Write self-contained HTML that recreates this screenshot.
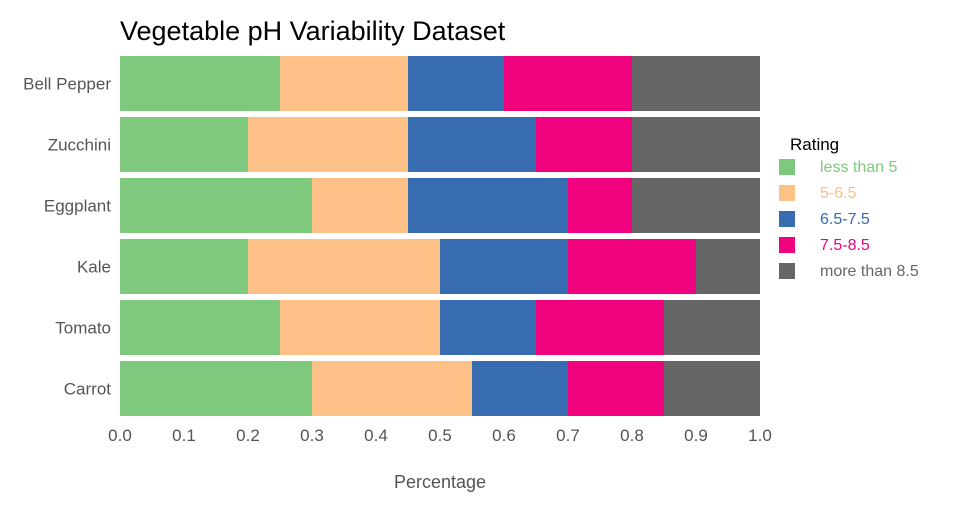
<!DOCTYPE html>
<html><head><meta charset="utf-8"><style>
body{margin:0;background:#fff;}
svg{font-family:"Liberation Sans Narrow","Liberation Sans",sans-serif;}
</style></head><body>
<svg width="960" height="500" id="c">
<text x="120" y="40" font-size="27" fill="#000">Vegetable pH Variability Dataset</text>
<text x="440" y="488" font-size="18" fill="#555" text-anchor="middle">Percentage</text>
<g id="bars"></g>
<g id="yax"></g>
<g id="xax"></g>
<g id="leg"></g>
</svg>
<script>
const categories=["Bell Pepper","Zucchini","Eggplant","Kale","Tomato","Carrot"];
const seriesNames=["less than 5","5-6.5","6.5-7.5","7.5-8.5","more than 8.5"];
const lt5=[0.25,0.2,0.3,0.2,0.25,0.3];
const s565=[0.2,0.25,0.15,0.3,0.25,0.25];
const s6575=[0.15,0.2,0.25,0.2,0.15,0.15];
const s7585=[0.2,0.15,0.1,0.2,0.2,0.15];
const gt85=[0.2,0.2,0.2,0.1,0.15,0.15];
const xTicks=["0.0","0.1","0.2","0.3","0.4","0.5","0.6","0.7","0.8","0.9","1.0"];
const colors=["#7fc97f","#fdc086","#386cb0","#f0027f","#666666"];
const series=[lt5,s565,s6575,s7585,gt85];
const NS="http://www.w3.org/2000/svg";
const x=v=>120+v*640;
const step=61,top0=56,bh=55;
const y=i=>top0+i*step;
function mk(t,a,p){const e=document.createElementNS(NS,t);for(const k in a)e.setAttribute(k,a[k]);p.appendChild(e);return e;}
const bars=document.getElementById('bars');
categories.forEach((c,i)=>{let acc=0;series.forEach((s,j)=>{
const r=mk('rect',{x:x(acc),y:y(i),width:x(acc+s[i])-x(acc),height:bh,fill:colors[j]},bars);


acc+=s[i];});
const t=mk('text',{x:111,y:y(i)+bh/2+6,'font-size':17,fill:'#555','text-anchor':'end'},document.getElementById('yax'));
t.textContent=c;


});
xTicks.forEach((l,i)=>{const v=parseFloat(l);
const t=mk('text',{x:x(v),y:441,'font-size':17,fill:'#555','text-anchor':'middle'},document.getElementById('xax'));
t.textContent=l;


});
const leg=document.getElementById('leg');
const lt=mk('text',{x:790,y:150,'font-size':17,fill:'#000'},leg);lt.textContent="Rating";


seriesNames.forEach((n,j)=>{const yy=159+j*26;
const r=mk('rect',{x:779,y:yy,width:16,height:16,fill:colors[j]},leg);


const t=mk('text',{x:820,y:yy+13,'font-size':16,fill:colors[j]},leg);t.textContent=n;


});
</script>
</body></html>
